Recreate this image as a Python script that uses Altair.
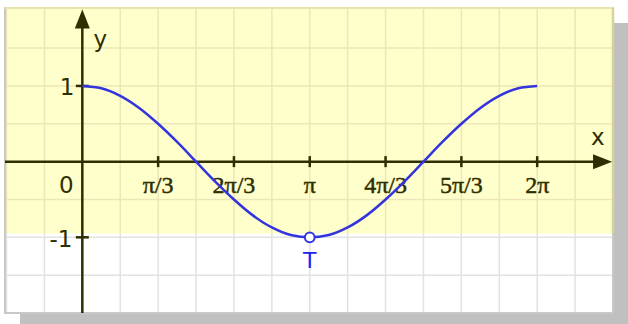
import altair as alt
import pandas as pd

# Horizontal positions are measured in units of pi/3 (so 2*pi sits at 6).
curve_x = [0, 0.25, 0.5, 0.75, 1, 1.25, 1.5, 1.75, 2, 2.25, 2.5, 2.75, 3,
           3.25, 3.5, 3.75, 4, 4.25, 4.5, 4.75, 5, 5.25, 5.5, 5.75, 6]
curve_y = [1.0, 0.97, 0.87, 0.71, 0.5, 0.26, 0.0, -0.26, -0.5, -0.71, -0.87, -0.97, -1.0,
           -0.97, -0.87, -0.71, -0.5, -0.26, 0.0, 0.26, 0.5, 0.71, 0.87, 0.97, 1.0]

x_tick_pos = [1, 2, 3, 4, 5, 6]
x_tick_labels = ["π/3", "2π/3", "π", "4π/3", "5π/3", "2π"]
y_tick_pos = [1, -1]
y_tick_labels = ["1", "-1"]

grid_x = [-1, -0.5, 0, 0.5, 1, 1.5, 2, 2.5, 3, 3.5, 4, 4.5, 5, 5.5, 6, 6.5, 7]
grid_y_upper = [1.5, 1, 0.5, 0, -0.5]
grid_y_lower = [-1, -1.5]

point_T = {"x": 3, "y": -1, "label": "T"}

X_MIN, X_MAX = -1.02, 7.0
Y_MIN, Y_MAX = -2.0, 2.03
BAND_LOW = -0.95  # lower edge of the shaded band

AXIS = "#2e2e00"
BLUE = "#3434de"
SANS = "DejaVu Sans"
SERIF = "Liberation Serif"

xs = alt.Scale(domain=[X_MIN, X_MAX], nice=False, zero=False)
ys = alt.Scale(domain=[Y_MIN, Y_MAX], nice=False, zero=False)


def X(field="x"):
    return alt.X(f"{field}:Q", scale=xs, axis=None)


def Y(field="y"):
    return alt.Y(f"{field}:Q", scale=ys, axis=None)


one = pd.DataFrame({"k": [0]})

# drop shadow behind the frame
shadow = alt.Chart(one).mark_rect(color="#c0c0c0").encode(
    x=alt.value(15), x2=alt.value(623), y=alt.value(15), y2=alt.value(320)
)

frame_df = pd.DataFrame({"x": [X_MIN], "x2": [X_MAX], "y": [Y_MIN], "y2": [Y_MAX]})
white_bg = alt.Chart(frame_df).mark_rect(color="white").encode(
    x=X(), x2="x2", y=Y(), y2="y2"
)
band_df = pd.DataFrame({"x": [X_MIN], "x2": [X_MAX], "y": [BAND_LOW], "y2": [Y_MAX]})
band = alt.Chart(band_df).mark_rect(color="#ffffcc").encode(
    x=X(), x2="x2", y=Y(), y2="y2"
)

# grid: tinted inside the band, grey below it
vgrid_up = alt.Chart(pd.DataFrame({"x": grid_x, "y": BAND_LOW, "y2": Y_MAX})).mark_rule(
    color="#ebe7b6", strokeWidth=1.5).encode(x=X(), y=Y(), y2="y2")
vgrid_lo = alt.Chart(pd.DataFrame({"x": grid_x, "y": Y_MIN, "y2": BAND_LOW})).mark_rule(
    color="#e2e2e2", strokeWidth=1.5).encode(x=X(), y=Y(), y2="y2")
hgrid_up = alt.Chart(pd.DataFrame({"y": grid_y_upper, "x": X_MIN, "x2": X_MAX})).mark_rule(
    color="#ebe7b6", strokeWidth=1.5).encode(y=Y(), x=X(), x2="x2")
hgrid_lo = alt.Chart(pd.DataFrame({"y": grid_y_lower, "x": X_MIN, "x2": X_MAX})).mark_rule(
    color="#e2e2e2", strokeWidth=1.5).encode(y=Y(), x=X(), x2="x2")

# frame edges
border = alt.Chart(frame_df).mark_rect(fill=None, stroke="#c8c8c8", strokeWidth=2).encode(
    x=X(), x2="x2", y=Y(), y2="y2"
)
top_edge = alt.Chart(pd.DataFrame({"y": [Y_MAX], "x": [X_MIN], "x2": [X_MAX]})).mark_rule(
    color="#e8e4ac", strokeWidth=2).encode(y=Y(), x=X(), x2="x2")
right_edge = alt.Chart(pd.DataFrame({"x": [X_MAX], "y": [BAND_LOW], "y2": [Y_MAX]})).mark_rule(
    color="#d6d29c", strokeWidth=2.5).encode(x=X(), y=Y(), y2="y2")

# coordinate axes with arrowheads
x_axis = alt.Chart(pd.DataFrame({"y": [0], "x": [X_MIN], "x2": [6.8]})).mark_rule(
    color=AXIS, strokeWidth=2.5).encode(y=Y(), x=X(), x2="x2")
y_axis = alt.Chart(pd.DataFrame({"x": [0], "y": [Y_MIN], "y2": [1.85]})).mark_rule(
    color=AXIS, strokeWidth=2.5).encode(x=X(), y=Y(), y2="y2")
x_arrow = alt.Chart(pd.DataFrame({"x": [6.862], "y": [0]})).mark_point(
    shape="M1,0L-1,-0.79L-1,0.79Z", size=361, filled=True, color=AXIS, opacity=1
).encode(x=X(), y=Y())
y_arrow = alt.Chart(pd.DataFrame({"x": [0], "y": [1.885]})).mark_point(
    shape="M0,-1L0.79,1L-0.79,1Z", size=361, filled=True, color=AXIS, opacity=1
).encode(x=X(), y=Y())

x_ticks = alt.Chart(pd.DataFrame({"x": x_tick_pos, "y": 0})).mark_tick(
    orient="vertical", size=11, thickness=2.5, color=AXIS, opacity=1
).encode(x=X(), y=Y())
y_ticks = alt.Chart(pd.DataFrame({"y": y_tick_pos, "x": 0})).mark_tick(
    orient="horizontal", size=13, thickness=2.5, color=AXIS, opacity=1
).encode(x=X(), y=Y())

x_labels = alt.Chart(pd.DataFrame({"x": x_tick_pos, "y": 0, "t": x_tick_labels})).mark_text(
    font=SERIF, fontSize=24, color=AXIS, stroke=AXIS, strokeWidth=0.45,
    align="center", baseline="alphabetic", dy=31
).encode(x=X(), y=Y(), text="t:N")
y_lab_1 = alt.Chart(pd.DataFrame({"x": [0], "y": [y_tick_pos[0]], "t": [y_tick_labels[0]]})).mark_text(
    font=SANS, fontSize=23, color=AXIS, align="right", baseline="alphabetic", dx=-8, dy=9
).encode(x=X(), y=Y(), text="t:N")
y_lab_m1 = alt.Chart(pd.DataFrame({"x": [0], "y": [y_tick_pos[1]], "t": [y_tick_labels[1]]})).mark_text(
    font=SANS, fontSize=23, color=AXIS, align="right", baseline="alphabetic", dx=-10, dy=10
).encode(x=X(), y=Y(), text="t:N")
zero_lab = alt.Chart(pd.DataFrame({"x": [0], "y": [0], "t": ["0"]})).mark_text(
    font=SANS, fontSize=23, color=AXIS, align="center", baseline="alphabetic", dx=-16, dy=31
).encode(x=X(), y=Y(), text="t:N")
x_name = alt.Chart(pd.DataFrame({"x": [6.80], "y": [0.22], "t": ["x"]})).mark_text(
    font=SANS, fontSize=23, color=AXIS, align="center", baseline="alphabetic"
).encode(x=X(), y=Y(), text="t:N")
y_name = alt.Chart(pd.DataFrame({"x": [0], "y": [1.52], "t": ["y"]})).mark_text(
    font=SANS, fontSize=23, color=AXIS, align="center", baseline="alphabetic", dx=18
).encode(x=X(), y=Y(), text="t:N")

curve = alt.Chart(pd.DataFrame({"x": curve_x, "y": curve_y})).mark_line(
    color=BLUE, strokeWidth=2.5, interpolate="monotone"
).encode(x=X(), y=Y())

t_df = pd.DataFrame([point_T])
t_point = alt.Chart(t_df).mark_point(
    shape="circle", size=95, filled=True, fill="white", stroke=BLUE, strokeWidth=2, opacity=1
).encode(x=X(), y=Y())
t_label = alt.Chart(t_df).mark_text(
    font=SANS, fontSize=22, color="#2020f0", align="center", baseline="alphabetic", dy=31
).encode(x=X(), y=Y(), text="label:N")

chart = alt.layer(
    shadow, white_bg, band, vgrid_up, vgrid_lo, hgrid_up, hgrid_lo,
    border, top_edge, right_edge,
    x_axis, y_axis, x_arrow, y_arrow, x_ticks, y_ticks,
    x_labels, y_lab_1, y_lab_m1, zero_lab, x_name, y_name,
    curve, t_point, t_label,
).properties(
    width=608, height=305,
    padding={"left": 5, "top": 8, "right": 15, "bottom": 11},
    autosize=alt.AutoSizeParams(type="none"),
    background="white",
).configure_view(stroke=None)

chart.save("out.html", embed_options={"renderer": "svg", "actions": False})
